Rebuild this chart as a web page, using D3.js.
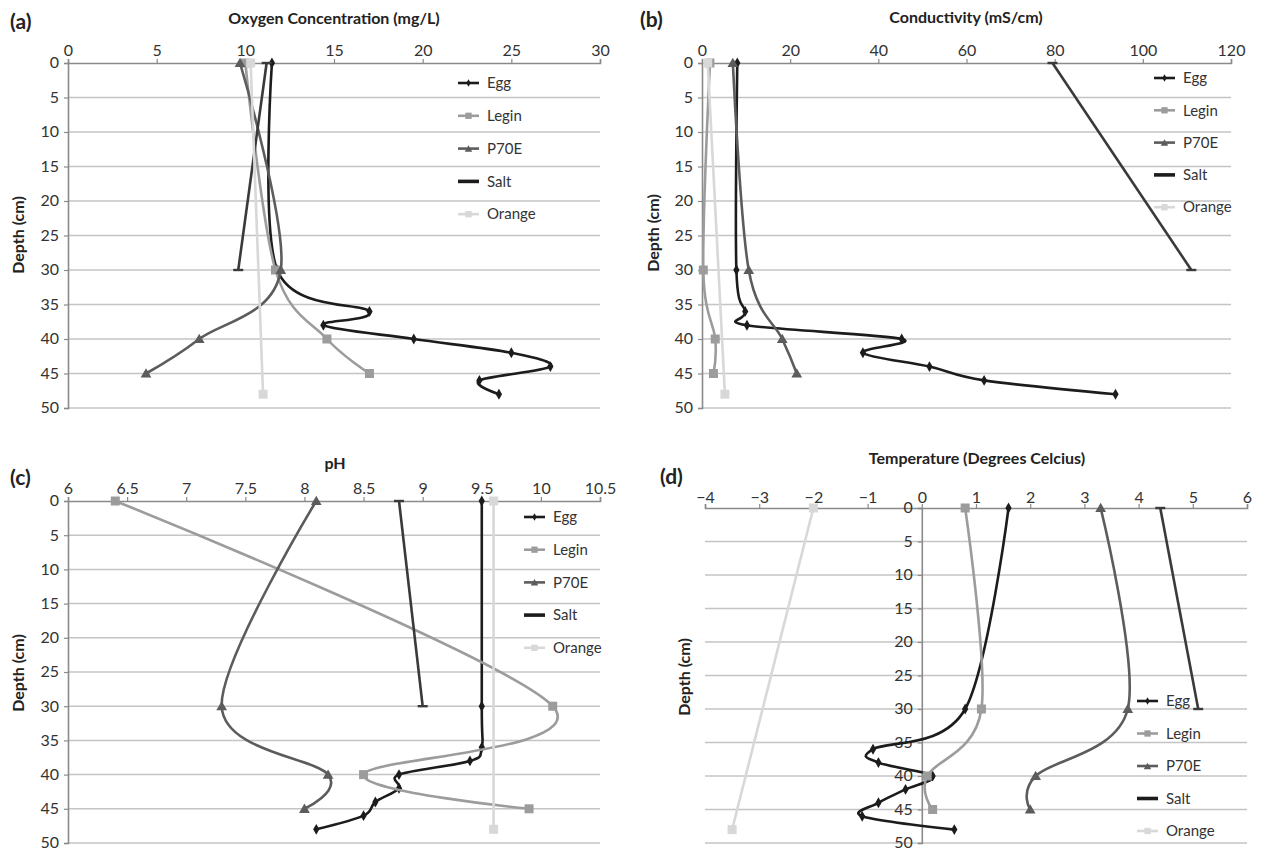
<!DOCTYPE html>
<html>
<head>
<meta charset="utf-8">
<script src="https://cdnjs.cloudflare.com/ajax/libs/d3/7.8.5/d3.min.js"></script>
<style>
  html, body { margin: 0; padding: 0; background: #fff; }
  svg { display: block; font-family: Lato, "Open Sans", sans-serif; }
</style>
</head>
<body>
<svg id="chart" width="1266" height="853"></svg>
<script>
// ---------------- DATA ----------------
const seriesNames = ["Egg", "Legin", "P70E", "Salt", "Orange"];
const depthTicks = [0, 5, 10, 15, 20, 25, 30, 35, 40, 45, 50];

const depthEgg = [0, 30, 36, 38, 40, 42, 44, 46, 48];
const depthLegin = [0, 30, 40, 45];
const depthP70E = [0, 30, 40, 45];
const depthSalt = [0, 30];
const depthOrange = [0, 48];

// (a) Oxygen concentration (mg/L)
const oxygenTicks = [0, 5, 10, 15, 20, 25, 30];
const oxygenEgg = [11.5, 11.8, 17.0, 14.4, 19.5, 25.0, 27.2, 23.2, 24.3];
const oxygenLegin = [10.0, 11.7, 14.6, 17.0];
const oxygenP70E = [9.7, 12.0, 7.4, 4.4];
const oxygenSalt = [11.2, 9.6];
const oxygenOrange = [10.3, 11.0];

// (b) Conductivity (mS/cm)
const condTicks = [0, 20, 40, 60, 80, 100, 120];
const condEgg = [8.0, 7.8, 9.8, 10.2, 45.3, 36.5, 51.6, 64.0, 93.8];
const condLegin = [1.8, 0.3, 3.0, 2.6];
const condP70E = [7.0, 10.6, 18.2, 21.5];
const condSalt = [79.5, 111];
const condOrange = [1.3, 5.2];

// (c) pH
const phTicks = [6, 6.5, 7, 7.5, 8, 8.5, 9, 9.5, 10, 10.5];
const phEgg = [9.5, 9.5, 9.5, 9.4, 8.8, 8.8, 8.6, 8.5, 8.1];
const phLegin = [6.4, 10.1, 8.5, 9.9];
const phP70E = [8.1, 7.3, 8.2, 8.0];
const phSalt = [8.8, 9.0];
const phOrange = [9.6, 9.6];

// (d) Temperature (degrees Celcius)
const tempTicks = [-4, -3, -2, -1, 0, 1, 2, 3, 4, 5, 6];
const tempEgg = [1.6, 0.8, -0.9, -0.8, 0.2, -0.3, -0.8, -1.1, 0.6];
const tempLegin = [0.8, 1.1, 0.1, 0.2];
const tempP70E = [3.3, 3.8, 2.1, 2.0];
const tempSalt = [4.4, 5.1];
const tempOrange = [-2.0, -3.5];

// ---------------- STYLE ----------------
const styles = {
  Egg:    { color: "#1c1c1c", marker: "diamond", smooth: true },
  Legin:  { color: "#9c9c9c", marker: "square",  smooth: true },
  P70E:   { color: "#5c5c5c", marker: "triangle", smooth: true },
  Salt:   { color: "#3a3a3a", marker: "dash",    smooth: false },
  Orange: { color: "#d8d8d8", marker: "square",  smooth: false }
};
const depthsBySeries = { Egg: depthEgg, Legin: depthLegin, P70E: depthP70E, Salt: depthSalt, Orange: depthOrange };

const panels = [
  { tag: "(a)", title: "Oxygen Concentration (mg/L)", ticks: oxygenTicks,
    values: { Egg: oxygenEgg, Legin: oxygenLegin, P70E: oxygenP70E, Salt: oxygenSalt, Orange: oxygenOrange },
    x0: 68, x1: 600, y0: 63, y1: 408, yAxisAt: 0, tagX: 10, tagY: 22, titleY: 18, titleX: 334,
    ylabX: 18, ylabY: 235, legX: 458, legY: 83, legStep: 32.8, tickGap: 7 },
  { tag: "(b)", title: "Conductivity (mS/cm)", ticks: condTicks,
    values: { Egg: condEgg, Legin: condLegin, P70E: condP70E, Salt: condSalt, Orange: condOrange },
    x0: 702, x1: 1231, y0: 63, y1: 408, yAxisAt: 0, tagX: 640, tagY: 20, titleX: 966, titleY: 17,
    ylabX: 653, ylabY: 233, legX: 1154, legY: 78, legStep: 32.3, tickGap: 7 },
  { tag: "(c)", title: "pH", ticks: phTicks,
    values: { Egg: phEgg, Legin: phLegin, P70E: phP70E, Salt: phSalt, Orange: phOrange },
    x0: 68, x1: 600, y0: 501, y1: 843, yAxisAt: 6, tagX: 10, tagY: 478, titleX: 335, titleY: 463,
    ylabX: 18, ylabY: 673, legX: 524, legY: 517, legStep: 32.7, tickGap: 7 },
  { tag: "(d)", title: "Temperature (Degrees Celcius)", ticks: tempTicks,
    values: { Egg: tempEgg, Legin: tempLegin, P70E: tempP70E, Salt: tempSalt, Orange: tempOrange },
    x0: 705, x1: 1247, y0: 508, y1: 843, yAxisAt: 0, tagX: 660, tagY: 477, titleX: 977, titleY: 458,
    ylabX: 684, ylabY: 677, legX: 1137, legY: 701, legStep: 32.5, tickGap: 5 }
];

const svg = d3.select("#chart");
svg.append("rect").attr("width", 1266).attr("height", 853).attr("fill", "#fff");

const fmt = d => String(d).replace("-", "\u2212");

function markerPath(g, type, cx, cy, color, s) {
  if (type === "diamond") {
    g.append("path").attr("d", d3.symbol(d3.symbolDiamond, 34 * s * s)())
      .attr("transform", `translate(${cx},${cy})`).attr("fill", color);
  } else if (type === "square") {
    const w = 9 * s;
    g.append("rect").attr("x", cx - w / 2).attr("y", cy - w / 2).attr("width", w).attr("height", w)
      .attr("fill", color);
  } else if (type === "triangle") {
    g.append("path").attr("d", d3.symbol(d3.symbolTriangle, 50 * s * s)())
      .attr("transform", `translate(${cx},${cy + 1})`).attr("fill", color);
  } else if (type === "dash") {
    g.append("rect").attr("x", cx - 5 * s).attr("y", cy - 1.2).attr("width", 10 * s).attr("height", 2.4)
      .attr("fill", color);
  }
}

panels.forEach(p => {
  const x = d3.scaleLinear().domain([p.ticks[0], p.ticks[p.ticks.length - 1]]).range([p.x0, p.x1]);
  const y = d3.scaleLinear().domain([0, 50]).range([p.y0, p.y1]);
  const g = svg.append("g");

  // gridlines
  g.append("g").selectAll("line").data(depthTicks.filter(d => d > 0)).join("line")
    .attr("x1", p.x0).attr("x2", p.x1)
    .attr("y1", d => y(d)).attr("y2", d => y(d))
    .attr("stroke", "#c4c4c4").attr("stroke-width", 1.5);

  // top axis
  const ax = g.append("g").attr("transform", `translate(0,${p.y0})`)
    .call(d3.axisTop(x).tickValues(p.ticks).tickFormat(fmt).tickSize(4).tickPadding(p.tickGap - 4));
  ax.select(".domain").attr("stroke", "#8a8a8a").attr("stroke-width", 1.6);
  ax.selectAll(".tick line").attr("stroke", "#8a8a8a").attr("stroke-width", 1.2);
  ax.selectAll(".tick text").attr("font-size", 16).attr("fill", "#333").attr("font-family", "Lato");

  // left axis
  const ay = g.append("g").attr("transform", `translate(${x(p.yAxisAt)},0)`)
    .call(d3.axisLeft(y).tickValues(depthTicks).tickFormat(fmt).tickSize(4).tickPadding(5));
  ay.select(".domain").attr("stroke", "#8a8a8a").attr("stroke-width", 1.6);
  ay.selectAll(".tick line").attr("stroke", "#8a8a8a").attr("stroke-width", 1.2);
  ay.selectAll(".tick text").attr("font-size", 16).attr("fill", "#333").attr("font-family", "Lato")
    .attr("dy", "0.3em");

  // series
  seriesNames.forEach(name => {
    const st = styles[name];
    const depths = depthsBySeries[name];
    const vals = p.values[name];
    const pts = vals.map((v, i) => [x(v), y(depths[i])]);
    const line = d3.line().curve(st.smooth ? d3.curveCardinal.tension(0) : d3.curveLinear);
    g.append("path").attr("d", line(pts)).attr("fill", "none")
      .attr("stroke", st.color).attr("stroke-width", 2.6).attr("stroke-linejoin", "round");
    const mg = g.append("g");
    pts.forEach(pt => markerPath(mg, st.marker, pt[0], pt[1], st.color, 1));
  });

  // legend
  seriesNames.forEach((name, i) => {
    const st = styles[name];
    const ly = p.legY + i * p.legStep;
    const lg = g.append("g");
    lg.append("line").attr("x1", p.legX).attr("x2", p.legX + 21).attr("y1", ly).attr("y2", ly)
      .attr("stroke", name === "Salt" ? "#1c1c1c" : st.color)
      .attr("stroke-width", name === "Salt" ? 3.6 : 2.6);
    if (name !== "Salt") markerPath(lg, st.marker, p.legX + 10.5, ly, st.color, 0.7);
    lg.append("text").attr("x", p.legX + 29).attr("y", ly).attr("dy", "0.35em")
      .attr("font-size", 15).attr("fill", "#333").text(name);
  });

  // texts
  g.append("text").attr("x", p.tagX).attr("y", p.tagY).attr("dy", "0.35em")
    .attr("font-size", 21).attr("font-weight", "bold").attr("fill", "#222").text(p.tag);
  g.append("text").attr("x", p.titleX).attr("y", p.titleY).attr("dy", "0.35em")
    .attr("text-anchor", "middle").attr("font-size", 16).attr("font-weight", "bold").attr("fill", "#222")
    .text(p.title);
  g.append("text").attr("transform", `translate(${p.ylabX},${p.ylabY}) rotate(-90)`)
    .attr("dy", "0.35em").attr("text-anchor", "middle")
    .attr("font-size", 16).attr("font-weight", "bold").attr("fill", "#222").text("Depth (cm)");
});
</script>
</body>
</html>
